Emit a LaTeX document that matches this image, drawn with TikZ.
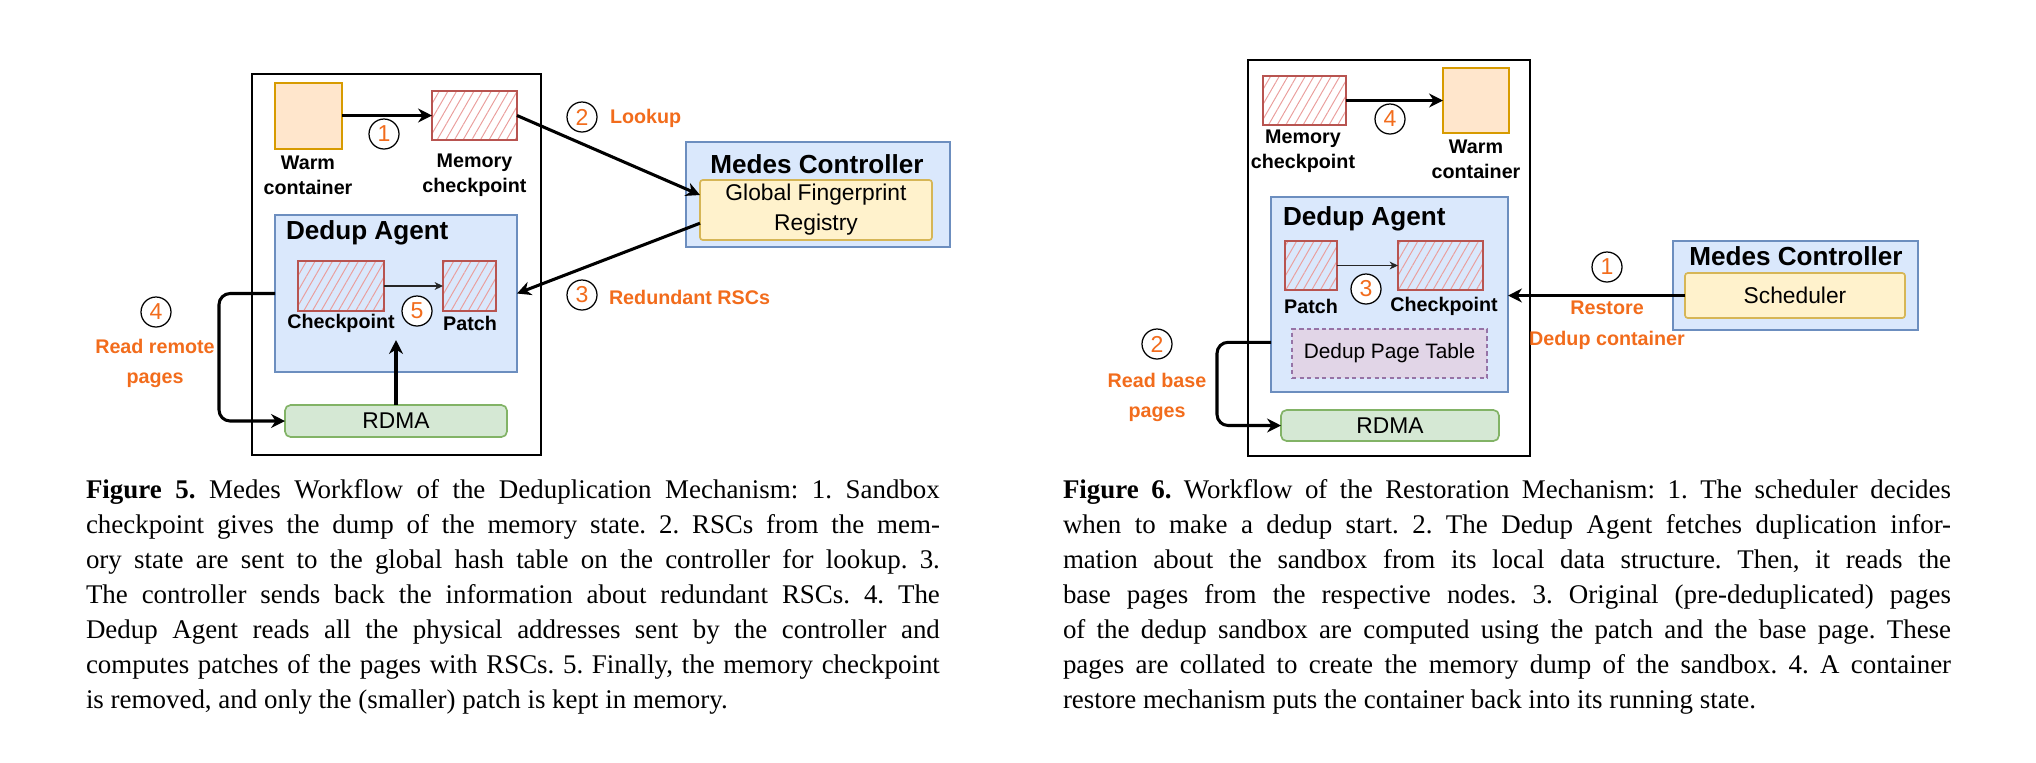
\documentclass[tikz,border=0pt]{standalone}
\usepackage{fontspec}
\setmainfont{Liberation Serif}
\newfontfamily\dsans{Liberation Sans}
\usetikzlibrary{arrows.meta,patterns.meta,fit,calc}

\definecolor{warmfill}{HTML}{FFE6CC}
\definecolor{warmdraw}{HTML}{D79B00}
\definecolor{hatchdraw}{HTML}{B85450}
\definecolor{hatchline}{HTML}{EA9E9C}
\definecolor{bluefill}{HTML}{DAE8FC}
\definecolor{bluedraw}{HTML}{6C8EBF}
\definecolor{yellowfill}{HTML}{FFF2CC}
\definecolor{yellowdraw}{HTML}{D6B656}
\definecolor{greenfill}{HTML}{D5E8D4}
\definecolor{greendraw}{HTML}{82B366}
\definecolor{purplefill}{HTML}{E1D5E7}
\definecolor{purpledraw}{HTML}{9673A6}
\definecolor{orangetxt}{HTML}{F26C1C}

\tikzset{
  every node/.style={inner sep=0pt, outer sep=0pt},
  outerbox/.style={rectangle, draw=black, line width=0.75pt},
  warmbox/.style={rectangle, draw=warmdraw, fill=warmfill, line width=0.6pt},
  hatchbox/.style={rectangle, draw=hatchdraw, line width=0.8pt,
    pattern={Lines[angle=60,distance=2.7pt,line width=0.35pt]}, pattern color=hatchline},
  bluebox/.style={rectangle, draw=bluedraw, fill=bluefill, line width=0.55pt},
  yellowbox/.style={rectangle, draw=yellowdraw, fill=yellowfill, line width=0.6pt, rounded corners=1pt},
  greenbox/.style={rectangle, draw=greendraw, fill=greenfill, line width=0.6pt, rounded corners=2pt},
  purplebox/.style={rectangle, draw=purpledraw, fill=purplefill, line width=0.6pt, dash pattern=on 1.5pt off 1.2pt},
  num/.style={circle, draw=black, fill=white, line width=0.45pt, minimum size=10.8pt, inner sep=0pt,
    font=\dsans\fontsize{8.3}{8.3}\selectfont, text=orangetxt},
  lbl/.style={align=center, font=\dsans\bfseries\fontsize{7.1}{9}\selectfont},
  olbl/.style={align=center, text=orangetxt, font=\dsans\bfseries\fontsize{7.1}{11}\selectfont},
  ttl/.style={font=\dsans\bfseries\fontsize{9.4}{11}\selectfont},
  reg/.style={align=center, font=\dsans\fontsize{8.2}{10.8}\selectfont},
  smallreg/.style={align=center, font=\dsans\fontsize{7.5}{9}\selectfont},
  bigarrow/.style={draw=black, line width=1.1pt, -{Stealth[length=5pt,width=5pt,inset=1.6pt]}},
  thinarrow/.style={draw=black!85, line width=0.45pt, -{Stealth[length=3pt,width=2.8pt,inset=0.9pt]}},
  captext/.style={anchor=base west},
}

\begin{document}
\begin{tikzpicture}[x=0.36pt,y=-0.36pt]
\useasboundingbox (0,0) rectangle (2036,762);

% ================= Left figure =================
\node[outerbox, fit={(252,74) (541,455)}] (outerL) {};
\node[warmbox, fit={(275,83) (342,149)}] (warmL) {};
\node[hatchbox, fit={(432,91) (517,140)}] (memL) {};
\node[lbl] (warmLlbl) at (308,175.5) {Warm\\container};
\node[lbl] (memLlbl) at (474.5,175.5) {Memory\\checkpoint};
\node[num] (c1L) at (384,134) {1};

\node[bluebox, fit={(686,142) (950,247)}] (ctrlL) {};
\node[ttl] (ctrlLttl) at (817,164) {Medes Controller};
\node[yellowbox, fit={(700,180) (932,240)}] (gfr) {};
\node[reg] (gfrtxt) at (gfr.center) {Global Fingerprint\\Registry};

\node[bluebox, fit={(275,215) (517,372)}] (agentL) {};
\node[ttl, anchor=west] (agentLttl) at (286,233) {Dedup Agent};
\node[hatchbox, fit={(298,261) (384,311)}] (ckL) {};
\node[hatchbox, fit={(443,261) (496,311)}] (patchL) {};
\node[lbl] (ckLlbl) at (341,323) {Checkpoint};
\node[lbl] (patchLlbl) at (470,323) {Patch};
\node[num] (c5L) at (417,311) {5};

\node[greenbox, fit={(285,405) (507,437)}] (rdmaL) {};
\node[reg] (rdmaLtxt) at (rdmaL.center) {RDMA};
\coordinate (upL) at (396,340);

\node[num] (c2L) at (582,117) {2};
\node[olbl, anchor=west] (lookup) at (610,118) {Lookup};
\node[num] (c3L) at (582,295) {3};
\node[olbl, anchor=west] (redund) at (609,297) {Redundant RSCs};
\node[num] (c4L) at (156,312) {4};
\node[olbl] (readrem) at (155,363.5) {Read remote\\pages};

\draw[bigarrow] (warmL.east |- memL.west) -- (memL.west);
\draw[bigarrow] (memL.east) -- ($(gfr.north west)!0.25!(gfr.south west)$);
\draw[bigarrow] ($(gfr.north west)!0.72!(gfr.south west)$) -- (agentL.east);
\draw[thinarrow] (ckL.east) -- (patchL.west);
\draw[bigarrow] (rdmaL.north) -- (upL);
\draw[bigarrow, rounded corners=4pt] (agentL.west) -- ++(-56,0) |- (rdmaL.west);

% ================= Right figure =================
\node[outerbox, fit={(1248,60) (1530,456)}] (outerR) {};
\node[hatchbox, fit={(1263,76) (1346,125)}] (memR) {};
\node[warmbox, fit={(1443,68) (1509,133)}] (warmR) {};
\node[lbl] (memRlbl) at (1303,151) {Memory\\checkpoint};
\node[lbl] (warmRlbl) at (1476,159) {Warm\\container};
\node[num] (c4R) at (1390,119) {4};

\node[bluebox, fit={(1271,197) (1508,392)}] (agentR) {};
\node[ttl, anchor=west] (agentRttl) at (1283,219) {Dedup Agent};
\node[hatchbox, fit={(1285,241) (1337,290)}] (patchR) {};
\node[hatchbox, fit={(1398,241) (1483,290)}] (ckR) {};
\node[lbl] (patchRlbl) at (1311,306) {Patch};
\node[lbl] (ckRlbl) at (1444,306) {Checkpoint};
\node[num] (c3R) at (1366,289) {3};
\node[purplebox, fit={(1292,329) (1487,378)}] (dpt) {};
\node[smallreg] (dpttxt) at (dpt.center) {Dedup Page Table};
\node[greenbox, fit={(1281,410) (1499,441)}] (rdmaR) {};
\node[reg] (rdmaRtxt) at (rdmaR.center) {RDMA};

\node[bluebox, fit={(1673,241) (1918,330)}] (ctrlR) {};
\node[ttl] (ctrlRttl) at (1796,256) {Medes Controller};
\node[yellowbox, fit={(1685,273) (1905,318)}] (sched) {};
\node[reg] (schedtxt) at (sched.center) {Scheduler};

\node[num] (c1R) at (1607,267) {1};
\node[olbl] (restore) at (1607,325) {Restore\\Dedup container};
\node[num] (c2R) at (1157,344) {2};
\node[olbl] (readbase) at (1157,397.5) {Read base\\pages};

\draw[bigarrow] (memR.east) -- (warmR.west |- memR.east);
\draw[thinarrow] (patchR.east) -- (ckR.west);
\draw[bigarrow] (sched.west) -- (sched.west -| agentR.east);
\draw[bigarrow, rounded corners=4pt] ($(agentR.north west)!0.745!(agentR.south west)$) -- ++(-54,0) |- (rdmaR.west);

% ================= Captions =================
\node[captext] (capL) at (86,498) {\parbox[t]{307.4pt}{\frenchspacing\fontsize{9.7}{12.6}\selectfont
\makebox[\linewidth][s]{\textbf{Figure 5.} Medes Workflow of the Deduplication Mechanism: 1. Sandbox}\\
\makebox[\linewidth][s]{checkpoint gives the dump of the memory state. 2. RSCs from the mem-}\\
\makebox[\linewidth][s]{ory state are sent to the global hash table on the controller for lookup. 3.}\\
\makebox[\linewidth][s]{The controller sends back the information about redundant RSCs. 4. The}\\
\makebox[\linewidth][s]{Dedup Agent reads all the physical addresses sent by the controller and}\\
\makebox[\linewidth][s]{computes patches of the pages with RSCs. 5. Finally, the memory checkpoint}\\
is removed, and only the (smaller) patch is kept in memory.}};

\node[captext] (capR) at (1063,498) {\parbox[t]{319.7pt}{\frenchspacing\fontsize{9.7}{12.6}\selectfont
\makebox[\linewidth][s]{\textbf{Figure 6.} Workflow of the Restoration Mechanism: 1. The scheduler decides}\\
\makebox[\linewidth][s]{when to make a dedup start. 2. The Dedup Agent fetches duplication infor-}\\
\makebox[\linewidth][s]{mation about the sandbox from its local data structure. Then, it reads the}\\
\makebox[\linewidth][s]{base pages from the respective nodes. 3. Original (pre-deduplicated) pages}\\
\makebox[\linewidth][s]{of the dedup sandbox are computed using the patch and the base page. These}\\
\makebox[\linewidth][s]{pages are collated to create the memory dump of the sandbox. 4. A container}\\
restore mechanism puts the container back into its running state.}};
\end{tikzpicture}
\end{document}
